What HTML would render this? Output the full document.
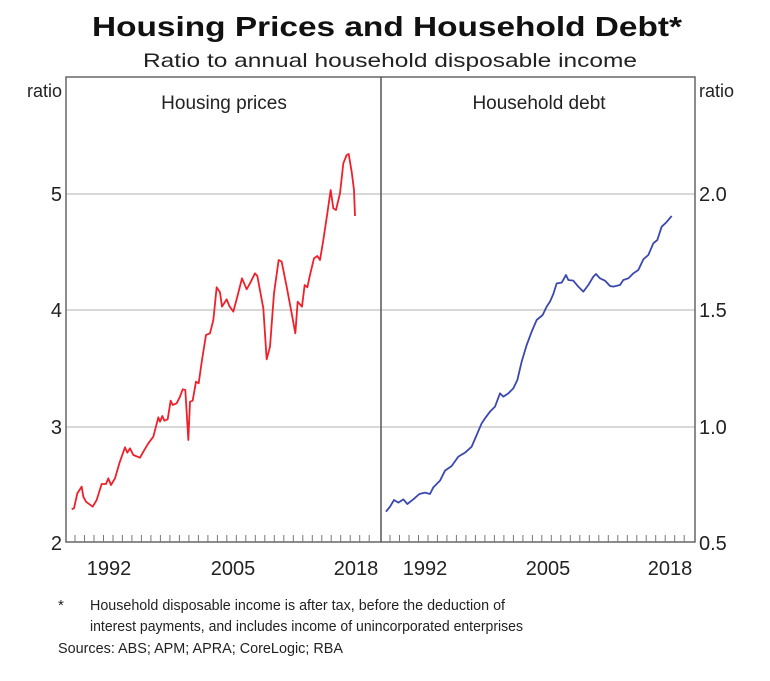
<!DOCTYPE html>
<html><head><meta charset="utf-8"><style>
html,body{margin:0;padding:0;background:#fff;}
svg{display:block;font-family:"Liberation Sans",Arial,sans-serif;}
</style></head><body>
<svg width="770" height="681" viewBox="0 0 770 681" xmlns="http://www.w3.org/2000/svg">
<text x="387" y="36" text-anchor="middle" font-size="28" font-weight="bold" fill="#111" textLength="590" lengthAdjust="spacingAndGlyphs">Housing Prices and Household Debt*</text>
<text x="390" y="67" text-anchor="middle" font-size="19.5" fill="#222" textLength="494" lengthAdjust="spacingAndGlyphs">Ratio to annual household disposable income</text>
<g stroke="#d8d8d8" stroke-width="2">
<line x1="66" y1="194" x2="695" y2="194"/>
<line x1="66" y1="310" x2="695" y2="310"/>
<line x1="66" y1="427" x2="695" y2="427"/>
</g>
<rect x="66" y="77" width="629" height="465" fill="none" stroke="#666" stroke-width="1.5"/>
<line x1="381" y1="77" x2="381" y2="542" stroke="#555" stroke-width="1.5"/>
<g stroke="#777" stroke-width="1">
<path d="M75 542v-7M84.5 542v-7M94 542v-7M103.5 542v-7M113 542v-7M122.4 542v-7M131.9 542v-7M141.4 542v-7M150.9 542v-7M160.4 542v-7M169.9 542v-7M179.4 542v-7M188.9 542v-7M198.4 542v-7M207.9 542v-7M217.4 542v-7M226.8 542v-7M236.3 542v-7M245.8 542v-7M255.3 542v-7M264.8 542v-7M274.3 542v-7M283.8 542v-7M293.3 542v-7M302.8 542v-7M312.3 542v-7M321.8 542v-7M331.2 542v-7M340.7 542v-7M350.2 542v-7M359.7 542v-7M369.2 542v-7"/>
<path transform="translate(315,0)" d="M75 542v-7M84.5 542v-7M94 542v-7M103.5 542v-7M113 542v-7M122.4 542v-7M131.9 542v-7M141.4 542v-7M150.9 542v-7M160.4 542v-7M169.9 542v-7M179.4 542v-7M188.9 542v-7M198.4 542v-7M207.9 542v-7M217.4 542v-7M226.8 542v-7M236.3 542v-7M245.8 542v-7M255.3 542v-7M264.8 542v-7M274.3 542v-7M283.8 542v-7M293.3 542v-7M302.8 542v-7M312.3 542v-7M321.8 542v-7M331.2 542v-7M340.7 542v-7M350.2 542v-7M359.7 542v-7M369.2 542v-7"/>
</g>
<g font-size="20" fill="#222">
<text x="62" y="97" text-anchor="end" font-size="18">ratio</text>
<text x="699" y="97" font-size="18">ratio</text>
<text x="224" y="109" text-anchor="middle" font-size="19">Housing prices</text>
<text x="539" y="109" text-anchor="middle" font-size="19">Household debt</text>
<text x="62" y="201" text-anchor="end">5</text>
<text x="62" y="317" text-anchor="end">4</text>
<text x="62" y="434" text-anchor="end">3</text>
<text x="62" y="550" text-anchor="end">2</text>
<text x="699" y="201">2.0</text>
<text x="699" y="317">1.5</text>
<text x="699" y="434">1.0</text>
<text x="699" y="550">0.5</text>
<text x="109" y="575" text-anchor="middle">1992</text>
<text x="233" y="575" text-anchor="middle">2005</text>
<text x="356" y="575" text-anchor="middle">2018</text>
<text x="425" y="575" text-anchor="middle">1992</text>
<text x="548" y="575" text-anchor="middle">2005</text>
<text x="670" y="575" text-anchor="middle">2018</text>
</g>
<g transform="translate(0,60) scale(0.33333)">
<polyline fill="none" stroke="#f0202a" stroke-width="1.8" vector-effect="non-scaling-stroke" stroke-linejoin="round" points="215,1348 222,1345 232,1300 245,1280 250,1310 258,1325 278,1340 290,1320 305,1272 318,1272 325,1255 333,1275 345,1255 358,1210 375,1162 382,1178 390,1165 400,1185 420,1193 430,1175 445,1150 460,1130 475,1072 480,1085 487,1068 493,1082 503,1078 512,1022 518,1035 530,1030 540,1010 548,988 556,990 565,1140 570,1025 578,1022 588,965 596,970 606,900 618,825 630,820 640,780 650,682 660,697 666,740 680,718 688,738 700,755 712,710 726,655 740,688 750,670 765,640 772,648 790,745 800,898 810,860 822,700 836,600 845,605 860,680 875,760 886,820 893,725 906,740 914,675 922,682 930,645 942,595 952,588 960,600 970,540 982,460 992,390 1000,445 1008,450 1020,400 1030,310 1040,285 1046,282 1055,335 1062,390 1065,468"/>
</g>
<g transform="translate(380,60) scale(0.33333)">
<polyline fill="none" stroke="#3a48b0" stroke-width="1.8" vector-effect="non-scaling-stroke" stroke-linejoin="round" points="18,1355 30,1340 42,1320 55,1328 70,1318 82,1332 100,1318 118,1302 135,1298 150,1302 160,1282 180,1262 195,1232 215,1218 235,1190 255,1178 275,1160 290,1125 305,1090 315,1075 330,1055 345,1040 360,1000 370,1010 385,1000 400,985 412,960 425,905 440,855 455,815 470,780 488,765 500,740 510,725 520,702 530,670 545,668 558,645 565,660 580,662 595,680 610,695 625,675 640,650 648,642 660,655 675,662 690,678 700,680 720,675 730,660 745,655 760,640 775,630 790,598 805,585 820,550 832,540 845,500 858,488 875,468"/>
</g>
<g font-size="15" fill="#222">
<text x="58" y="610">*</text>
<text x="90" y="610" textLength="415" lengthAdjust="spacingAndGlyphs">Household disposable income is after tax, before the deduction of</text>
<text x="90" y="631" textLength="433" lengthAdjust="spacingAndGlyphs">interest payments, and includes income of unincorporated enterprises</text>
<text x="58" y="653" textLength="285" lengthAdjust="spacingAndGlyphs">Sources: ABS; APM; APRA; CoreLogic; RBA</text>
</g>
</svg>
</body></html>
